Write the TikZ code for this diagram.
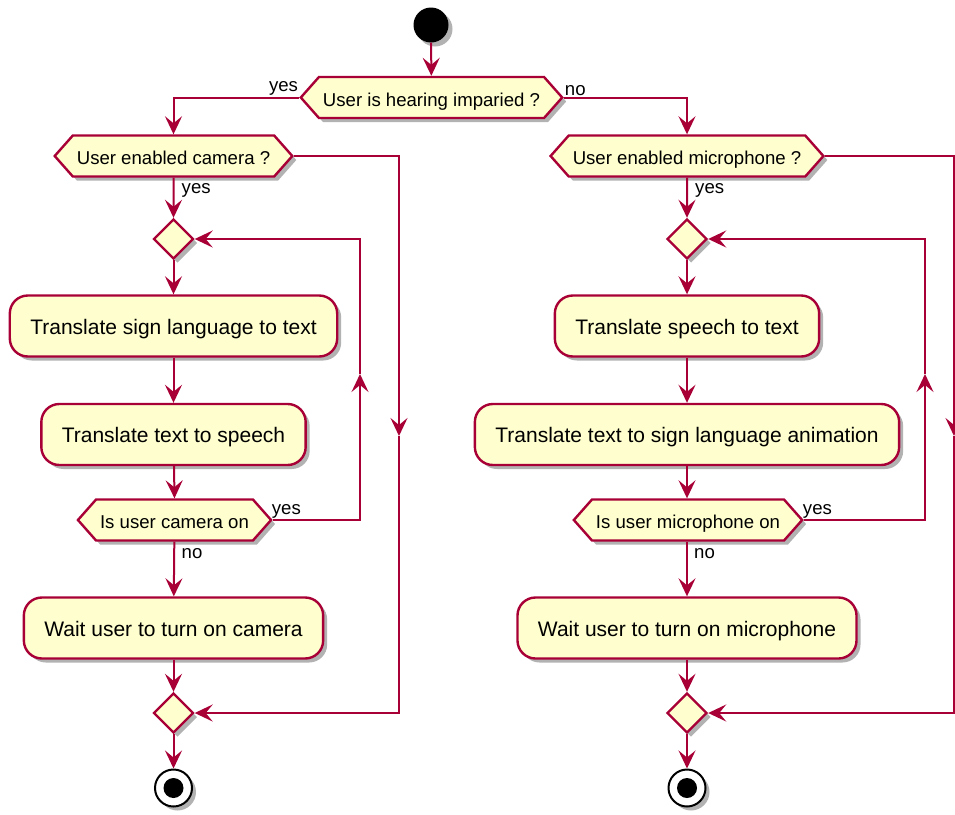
\documentclass[tikz,border=0pt]{standalone}
\usepackage{fontspec}
\setmainfont{Liberation Sans}
\usetikzlibrary{shapes.geometric,shapes.symbols,arrows.meta,shadows}
\definecolor{umlred}{HTML}{A80036}
\definecolor{umlfill}{HTML}{FEFECE}
\tikzset{
  shade/.style={drop shadow={shadow xshift=4pt,shadow yshift=-4pt,fill=black,opacity=0.3}},
  activity/.style={draw=umlred,fill=umlfill,line width=2.4pt,rounded corners=18pt,
    minimum height=61pt,inner xsep=20.5pt,text height=16pt,text depth=0pt,
    font=\fontsize{21}{25}\selectfont,shade},
  decision/.style={signal,signal to=east and west,signal pointer angle=97,draw=umlred,
    fill=umlfill,line width=2.4pt,minimum height=41pt,inner xsep=4pt,
    text height=17.5pt,text depth=0pt,font=\fontsize{18.6}{22}\selectfont,shade},
  merge/.style={diamond,draw=umlred,fill=umlfill,line width=2.4pt,minimum width=40pt,
    minimum height=40pt,inner sep=0pt,shade},
  startnode/.style={circle,fill=black,minimum size=35pt,inner sep=0pt,shade},
  stopnode/.style={circle,draw=black,fill=white,line width=2pt,minimum size=37pt,inner sep=0pt,
    shade,path picture={\fill[black] (path picture bounding box.center) circle (10pt);}},
  lbl/.style={font=\fontsize{18.6}{22}\selectfont,inner sep=1pt},
  flow/.style={draw=umlred,line width=2pt,-{Stealth[length=18pt,width=17pt,inset=7pt]}}
}

\begin{document}
\begin{tikzpicture}[x=1pt,y=-1pt]
	\useasboundingbox (0,0) rectangle (955,814);
	\node[startnode] (start) at (431,25) {};
	\node[decision] (hearing) at (431.5,97.5) {User is hearing imparied ?};
	\node[decision] (camera) at (173.5,156) {User enabled camera ?};
	\node[decision] (micro) at (687,156) {User enabled microphone ?};
	\node[merge] (loopcam) at (173.5,239) {};
	\node[merge] (loopmic) at (687,239) {};
	\node[activity] (signtext) at (173.5,326) {Translate sign language to text};
	\node[activity] (textspeech) at (173.5,434.5) {Translate text to speech};
	\node[activity] (speechtext) at (687,326) {Translate speech to text};
	\node[activity] (textsign) at (687,434.5) {Translate text to sign language animation};
	\node[decision] (camon) at (174.5,520) {Is user camera on};
	\node[decision] (micon) at (688,520) {Is user microphone on};
	\node[activity] (waitcam) at (173.5,628) {Wait user to turn on camera};
	\node[activity] (waitmic) at (687,628) {Wait user to turn on microphone};
	\node[merge] (endcam) at (173.5,713) {};
	\node[merge] (endmic) at (687,713) {};
	\node[stopnode] (stopcam) at (173.5,788) {};
	\node[stopnode] (stopmic) at (687,788) {};
	\coordinate (upcam) at (360,374);
	\coordinate (upmic) at (925,374);
	\coordinate (downcam) at (399,436);
	\coordinate (downmic) at (954,436);

	\draw[flow] (start) -- (hearing);
	\draw[flow] (hearing.west) -| (camera.north);
	\draw[flow] (hearing.east) -| (micro.north);
	\node[lbl,anchor=south east] (yeshear) at ([yshift=1pt]hearing.west) {yes};
	\node[lbl,anchor=south west] (nohear) at ([yshift=1pt]hearing.east) {no};

	\draw[flow] (camera) -- (loopcam);
	\draw[flow] (loopcam) -- (signtext);
	\draw[flow] (signtext) -- (textspeech);
	\draw[flow] (textspeech) -- (camon.north);
	\draw[flow] (camon.east) -| (upcam);
	\draw[flow] (upcam) |- (loopcam.east);
	\draw[flow] (camon) -- (waitcam);
	\draw[flow] (waitcam) -- (endcam);
	\draw[flow] (endcam) -- (stopcam);
	\draw[flow] (camera.east) -| (downcam);
	\draw[flow] (downcam) |- (endcam.east);
	\node[lbl,anchor=north west] (yescam) at ([xshift=7pt,yshift=-5pt]camera.south) {yes};
	\node[lbl,anchor=south west] (yescamon) at ([xshift=-2pt]camon.east) {yes};
	\node[lbl,anchor=north west] (nocamon) at ([xshift=6pt,yshift=-6pt]camon.south) {no};

	\draw[flow] (micro) -- (loopmic);
	\draw[flow] (loopmic) -- (speechtext);
	\draw[flow] (speechtext) -- (textsign);
	\draw[flow] (textsign) -- (micon.north -| textsign);
	\draw[flow] (micon.east) -| (upmic);
	\draw[flow] (upmic) |- (loopmic.east);
	\draw[flow] (micon.south -| waitmic) -- (waitmic);
	\draw[flow] (waitmic) -- (endmic);
	\draw[flow] (endmic) -- (stopmic);
	\draw[flow] (micro.east) -| (downmic);
	\draw[flow] (downmic) |- (endmic.east);
	\node[lbl,anchor=north west] (yesmic) at ([xshift=7pt,yshift=-5pt]micro.south) {yes};
	\node[lbl,anchor=south west] (yesmicon) at ([xshift=-2pt]micon.east) {yes};
	\node[lbl,anchor=north west] (nomicon) at ([xshift=6pt,yshift=-6pt]micon.south -| waitmic) {no};
\end{tikzpicture}
\end{document}
